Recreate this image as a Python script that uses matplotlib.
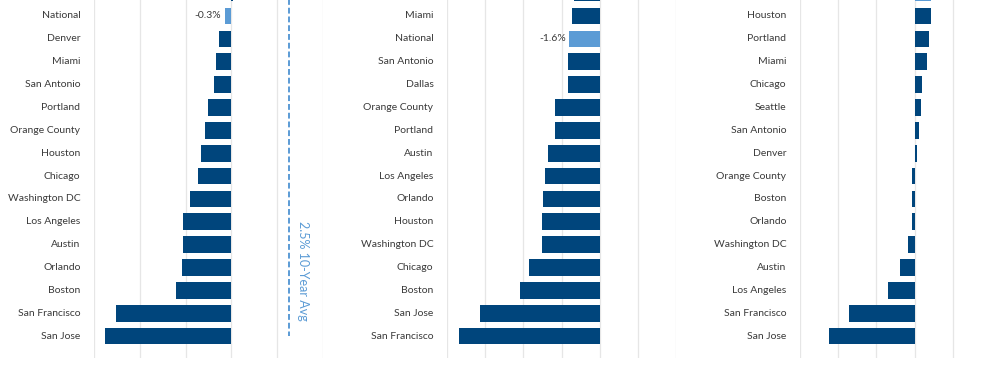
import numpy as np
import matplotlib
matplotlib.use("Agg")
import matplotlib.pyplot as plt

plt.rcParams['font.family'] = ['Lato', 'DejaVu Sans']

DARK = "#00457c"
LIGHT = "#5b9bd5"
GRID = "#e6e6e6"
TEXT = "#3a3a3a"

# panel 1 (first row sits just above the crop, its name is not shown)
cities_1 = ["Seattle", "National", "Denver", "Miami", "San Antonio", "Portland",
            "Orange County", "Houston", "Chicago", "Washington DC", "Los Angeles",
            "Austin", "Orlando", "Boston", "San Francisco", "San Jose"]
values_1 = [0.05, -0.3, -0.55, -0.69, -0.75, -1.01, -1.14, -1.31, -1.47, -1.80,
            -2.10, -2.11, -2.15, -2.42, -5.04, -5.51]

# panel 2
cities_2 = ["Denver", "Miami", "National", "San Antonio", "Dallas", "Orange County",
            "Portland", "Austin", "Los Angeles", "Orlando", "Houston",
            "Washington DC", "Chicago", "Boston", "San Jose", "San Francisco"]
values_2 = [-1.37, -1.44, -1.6, -1.68, -1.68, -2.32, -2.32, -2.72, -2.89, -3.0,
            -3.05, -3.05, -3.72, -4.16, -6.26, -7.37]

# panel 3
cities_3 = ["National", "Houston", "Portland", "Miami", "Chicago", "Seattle",
            "San Antonio", "Denver", "Orange County", "Boston", "Orlando",
            "Washington DC", "Austin", "Los Angeles", "San Francisco", "San Jose"]
values_3 = [0.88, 0.88, 0.77, 0.67, 0.40, 0.32, 0.23, 0.14, -0.12, -0.13, -0.12,
            -0.35, -0.75, -1.42, -3.44, -4.51]

avg_10yr = 2.5

panels = [
    (cities_1, values_1, (-6, 4), 94.3, "-0.3%"),
    (cities_2, values_2, (-8, 4), 447.3, "-1.6%"),
    (cities_3, values_3, (-6, 6), 800.3, None),
]

W, H = 981, 375
fig = plt.figure(figsize=(W / 100, H / 100), dpi=100)

pitch = 22.86      # pixels per row
row1_px = 16       # pixel centre of the second row
y_top_px, y_bot_px = -30, 358
ax_w_px = 228.5

ylim = (1 + (y_bot_px - row1_px) / pitch, 1 + (y_top_px - row1_px) / pitch)

for cities, values, xlim, left_px, label in panels:
    ax = fig.add_axes([left_px / W, 1 - y_bot_px / H, ax_w_px / W,
                       (y_bot_px - y_top_px) / H])
    y = np.arange(len(cities))
    colors = [LIGHT if c == "National" else DARK for c in cities]
    ax.barh(y, values, height=0.73, color=colors, zorder=3)
    ax.set_xlim(*xlim)
    ax.set_ylim(*ylim)
    ax.set_xticks(np.arange(xlim[0], xlim[1] + 0.1, 2))
    ax.set_xticklabels([])
    ax.set_yticks(y)
    # the top row is cropped away, so its name stays blank
    ax.set_yticklabels([""] + cities[1:], fontsize=7.5, color=TEXT, va="center")
    ax.tick_params(length=0, pad=10)
    ax.grid(axis="x", color=GRID, linewidth=0.9, zorder=0)
    for s in ax.spines.values():
        s.set_visible(False)

    if label is not None:
        i = cities.index("National")
        ax.text(values[i] - 0.15, i, label, ha="right", va="center",
                fontsize=7.5, color=TEXT, zorder=4)

    if cities is cities_1:
        ax.plot([avg_10yr, avg_10yr], [ylim[1], len(cities) - 1], color=LIGHT,
                linestyle=(0, (3, 1.5)), linewidth=1.4, zorder=4)
        ax.text(avg_10yr + 0.62, 12.14, "2.5% 10-Year Avg", rotation=-90,
                ha="center", va="center", fontsize=9, color=LIGHT)

fig.savefig("out.png", dpi=100)
